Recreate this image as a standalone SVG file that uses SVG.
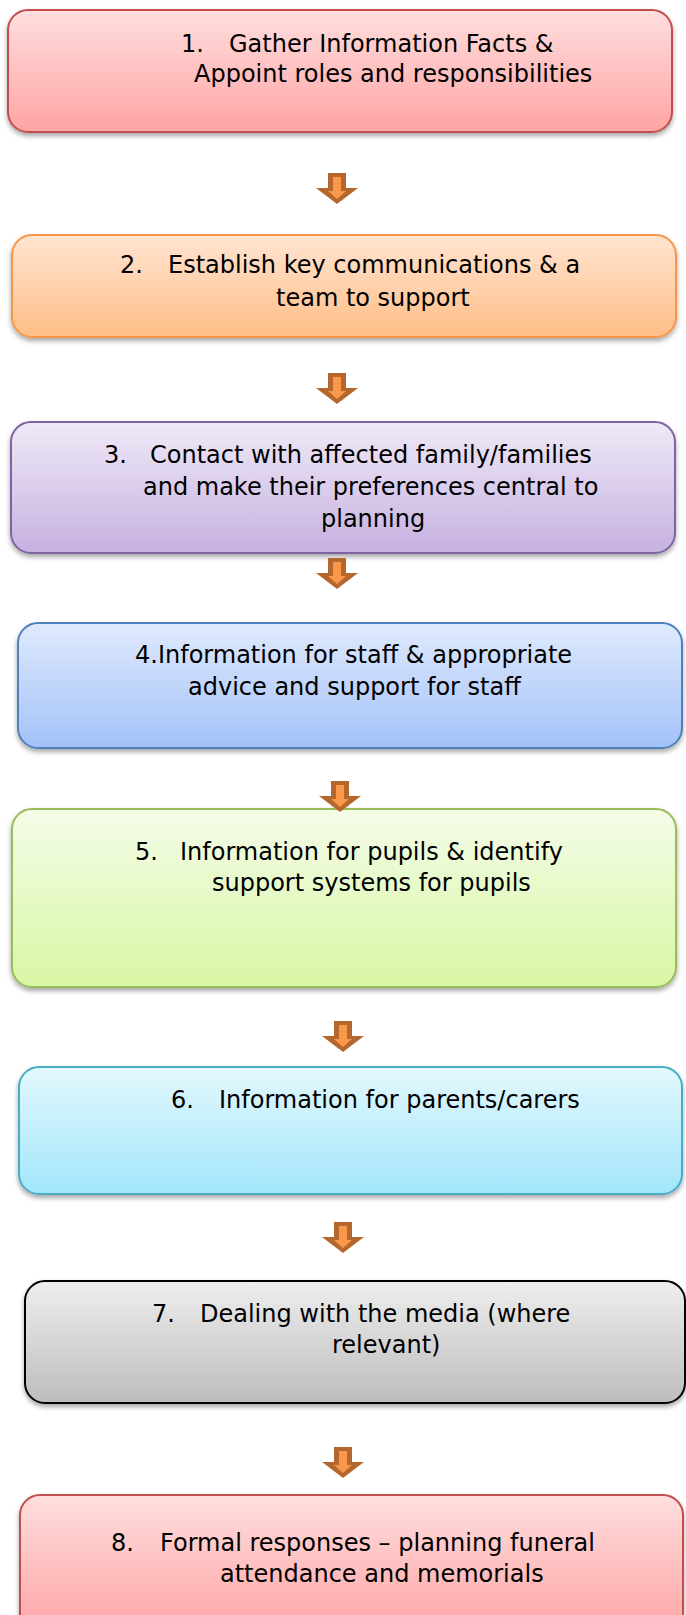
<svg xmlns="http://www.w3.org/2000/svg" xmlns:xlink="http://www.w3.org/1999/xlink" width="686" height="1615" viewBox="0 0 686 1615">
<style>
.box{stroke-width:2;filter:url(#sh)}
.t{font-family:"DejaVu Sans",Verdana,sans-serif;font-size:24px;fill:#000}
</style>
<defs>
<filter id="sh" x="-5%" y="-10%" width="110%" height="130%">
<feDropShadow dx="0" dy="3" stdDeviation="2.5" flood-color="#000" flood-opacity="0.35"/>
</filter>
<linearGradient id="gRed" x1="0" y1="0" x2="0" y2="1"><stop offset="0" stop-color="#ffdede"/><stop offset="1" stop-color="#ffa4a4"/></linearGradient>
<linearGradient id="gOr" x1="0" y1="0" x2="0" y2="1"><stop offset="0" stop-color="#ffe4d1"/><stop offset="1" stop-color="#ffbe87"/></linearGradient>
<linearGradient id="gPu" x1="0" y1="0" x2="0" y2="1"><stop offset="0" stop-color="#efe9f7"/><stop offset="1" stop-color="#c6b1e0"/></linearGradient>
<linearGradient id="gBl" x1="0" y1="0" x2="0" y2="1"><stop offset="0" stop-color="#dfeafd"/><stop offset="1" stop-color="#a3c1f8"/></linearGradient>
<linearGradient id="gGr" x1="0" y1="0" x2="0" y2="1"><stop offset="0" stop-color="#f4fce8"/><stop offset="1" stop-color="#d8f7a4"/></linearGradient>
<linearGradient id="gCy" x1="0" y1="0" x2="0" y2="1"><stop offset="0" stop-color="#e3f8fd"/><stop offset="1" stop-color="#a2e6fb"/></linearGradient>
<linearGradient id="gGy" x1="0" y1="0" x2="0" y2="1"><stop offset="0" stop-color="#eeeeee"/><stop offset="1" stop-color="#bdbdbd"/></linearGradient>
<g id="arr">
<polygon points="-9,0 9,0 9,15 21,15 0,31 -21,15 -9,15" fill="#b5682e"/>
<polygon points="-4,4 4,4 4,18 9,18 0,26 -9,18 -4,18" fill="#f9984a"/>
</g>
</defs>

<g id="node1">
<rect class="box" x="8" y="10" width="664" height="122" rx="20" fill="url(#gRed)" stroke="#c0504d"/>
<text class="t" y="52"><tspan x="181">1.</tspan><tspan x="229">Gather Information Facts &amp;</tspan></text>
<text class="t" x="194" y="82">Appoint roles and responsibilities</text>
</g>

<g id="node2">
<rect class="box" x="12" y="235" width="664" height="102" rx="20" fill="url(#gOr)" stroke="#f79646"/>
<text class="t" y="273"><tspan x="120">2.</tspan><tspan x="168">Establish key communications &amp; a</tspan></text>
<text class="t" x="276" y="306">team to support</text>
</g>

<g id="node3">
<rect class="box" x="11" y="422" width="664" height="131" rx="20" fill="url(#gPu)" stroke="#8064a2"/>
<text class="t" y="463"><tspan x="104">3.</tspan><tspan x="150">Contact with affected family/families</tspan></text>
<text class="t" x="143" y="495">and make their preferences central to</text>
<text class="t" x="321" y="527">planning</text>
</g>

<g id="node4">
<rect class="box" x="18" y="623" width="664" height="125" rx="20" fill="url(#gBl)" stroke="#4f81bd"/>
<text class="t" x="135" y="663">4.Information for staff &amp; appropriate</text>
<text class="t" x="188" y="695">advice and support for staff</text>
</g>

<g id="node5">
<rect class="box" x="12" y="809" width="664" height="178" rx="20" fill="url(#gGr)" stroke="#9bbb59"/>
<text class="t" y="860"><tspan x="135">5.</tspan><tspan x="180">Information for pupils &amp; identify</tspan></text>
<text class="t" x="212" y="891">support systems for pupils</text>
</g>

<g id="node6">
<rect class="box" x="19" y="1067" width="663" height="127" rx="20" fill="url(#gCy)" stroke="#4bacc6"/>
<text class="t" y="1108"><tspan x="171">6.</tspan><tspan x="219">Information for parents/carers</tspan></text>
</g>

<g id="node7">
<rect class="box" x="25" y="1281" width="660" height="122" rx="20" fill="url(#gGy)" stroke="#000"/>
<text class="t" y="1322"><tspan x="152">7.</tspan><tspan x="200">Dealing with the media (where</tspan></text>
<text class="t" x="332" y="1353">relevant)</text>
</g>

<g id="node8">
<rect class="box" x="20" y="1495" width="663" height="140" rx="20" fill="url(#gRed)" stroke="#c0504d"/>
<text class="t" y="1551"><tspan x="111">8.</tspan><tspan x="160">Formal responses – planning funeral</tspan></text>
<text class="t" x="220" y="1582">attendance and memorials</text>
</g>

<g id="connectors">
<use xlink:href="#arr" x="337" y="173"/>
<use xlink:href="#arr" x="337" y="373"/>
<use xlink:href="#arr" x="337" y="558"/>
<use xlink:href="#arr" x="340" y="781"/>
<use xlink:href="#arr" x="343" y="1021"/>
<use xlink:href="#arr" x="343" y="1222"/>
<use xlink:href="#arr" x="343" y="1447"/>
</g>
</svg>
